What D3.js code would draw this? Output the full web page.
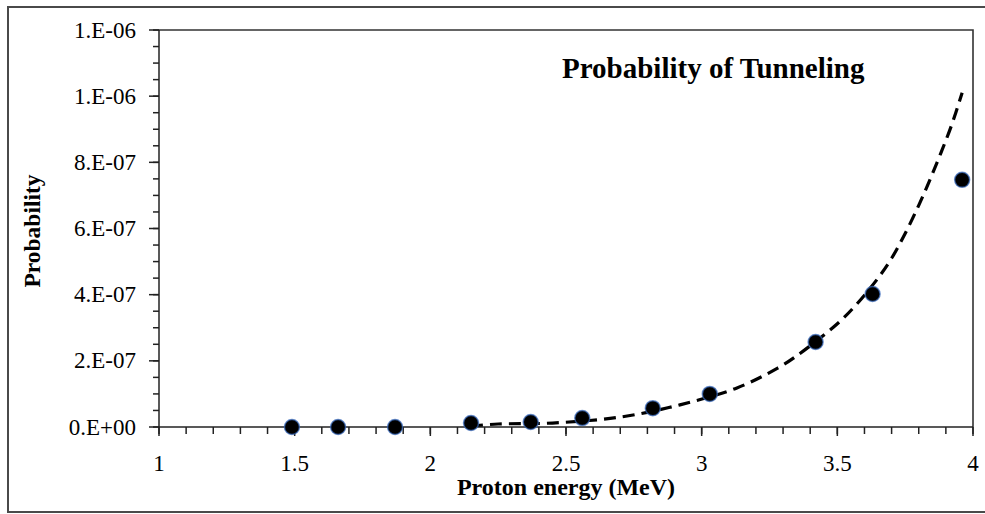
<!DOCTYPE html>
<html>
<head>
<meta charset="utf-8">
<script src="https://cdn.jsdelivr.net/npm/d3@7"></script>
<style>
  body { margin: 0; background: #fff; }
  svg text { font-family: "Liberation Serif", "Times New Roman", serif; fill: #000; }
</style>
</head>
<body>
<svg id="chart" width="985" height="514"></svg>
<script>
// measured points (proton energy in MeV, tunneling probability)
const energy = [1.49, 1.66, 1.87, 2.15, 2.37, 2.56, 2.82, 3.03, 3.42, 3.63, 3.96]
const probability = [0, 0, 0, 1.2e-8, 1.5e-8, 2.7e-8, 5.7e-8, 1.0e-7, 2.57e-7, 4.02e-7, 7.47e-7]

// trendline
const trendX = [2.15, 2.25, 2.45, 2.70, 2.92, 3.13, 3.28, 3.35, 3.50, 3.57, 3.65, 3.70, 3.75, 3.80, 3.84, 3.88, 3.92, 3.96]
const trendY = [0.03e-7, 0.09e-7, 0.12e-7, 0.30e-7, 0.67e-7, 1.18e-7, 1.78e-7, 2.15e-7, 3.12e-7, 3.70e-7, 4.50e-7, 5.10e-7, 5.85e-7, 6.70e-7, 7.45e-7, 8.25e-7, 9.10e-7, 10.10e-7]

const xTicks = [1, 1.5, 2, 2.5, 3, 3.5, 4]
const yTicks = [0, 2e-7, 4e-7, 6e-7, 8e-7, 1.0e-6, 1.2e-6]
const yTickLabels = ["0.E+00", "2.E-07", "4.E-07", "6.E-07", "8.E-07", "1.E-06", "1.E-06"]

const svg = d3.select("#chart")
const margin = { left: 159, right: 973, top: 30, bottom: 427 }

const x = d3.scaleLinear().domain([1, 4]).range([margin.left, margin.right])
const y = d3.scaleLinear().domain([0, 1.2e-6]).range([margin.bottom, margin.top])

// outer frame
svg.append("rect")
    .attr("x", 8).attr("y", 7)
    .attr("width", 990).attr("height", 505)
    .attr("fill", "none")
    .attr("stroke", "#4a4a4a")
    .attr("stroke-width", 2)

// plot area border (top + right)
svg.append("path")
    .attr("d", `M${margin.left},${margin.top}H${margin.right}V${margin.bottom}`)
    .attr("fill", "none")
    .attr("stroke", "#333")
    .attr("stroke-width", 1.6)

// minor ticks
const xMinor = d3.range(1, 4.001, 0.1)
const yMinor = d3.range(0, 1.2001e-6, 0.5e-7)

const axisG = svg.append("g").attr("stroke", "#222").attr("stroke-width", 1.5)

axisG.selectAll(".xminor")
    .data(xMinor)
    .join("line")
    .attr("x1", d => x(d)).attr("x2", d => x(d))
    .attr("y1", margin.bottom).attr("y2", margin.bottom + 7)

axisG.selectAll(".xmajor")
    .data(xTicks)
    .join("line")
    .attr("x1", d => x(d)).attr("x2", d => x(d))
    .attr("y1", margin.bottom).attr("y2", margin.bottom + 9)

axisG.selectAll(".yminor")
    .data(yMinor)
    .join("line")
    .attr("x1", margin.left - 6).attr("x2", margin.left)
    .attr("y1", d => y(d)).attr("y2", d => y(d))

axisG.selectAll(".ymajor")
    .data(yTicks)
    .join("line")
    .attr("x1", margin.left - 10).attr("x2", margin.left)
    .attr("y1", d => y(d)).attr("y2", d => y(d))

// axis lines
axisG.append("line")
    .attr("x1", margin.left).attr("x2", margin.right)
    .attr("y1", margin.bottom).attr("y2", margin.bottom)
axisG.append("line")
    .attr("x1", margin.left).attr("x2", margin.left)
    .attr("y1", margin.top).attr("y2", margin.bottom)

// tick labels
svg.selectAll(".xlabel")
    .data(xTicks)
    .join("text")
    .attr("x", d => x(d))
    .attr("y", 471)
    .attr("text-anchor", "middle")
    .style("font-size", "23px")
    .text(d => d)

svg.selectAll(".ylabel")
    .data(yTicks)
    .join("text")
    .attr("x", 136)
    .attr("y", d => y(d))
    .attr("dy", "0.33em")
    .attr("text-anchor", "end")
    .style("font-size", "23px")
    .text((d, i) => yTickLabels[i])

// axis titles
svg.append("text")
    .attr("x", (margin.left + margin.right) / 2)
    .attr("y", 495)
    .attr("text-anchor", "middle")
    .style("font-size", "24px")
    .style("font-weight", "bold")
    .text("Proton energy (MeV)")

svg.append("text")
    .attr("transform", "translate(40,231) rotate(-90)")
    .attr("text-anchor", "middle")
    .style("font-size", "23.5px")
    .style("font-weight", "bold")
    .text("Probability")

svg.append("text")
    .attr("x", 562)
    .attr("y", 78)
    .style("font-size", "29px")
    .style("font-weight", "bold")
    .text("Probability of Tunneling")

// trendline
const trend = trendX.map((d, i) => [d, trendY[i]])
svg.append("path")
    .datum(trend)
    .attr("d", d3.line().x(d => x(d[0])).y(d => y(d[1])).curve(d3.curveCatmullRom))
    .attr("fill", "none")
    .attr("stroke", "#000")
    .attr("stroke-width", 3.2)
    .attr("stroke-dasharray", "12,7")

// data points
svg.selectAll(".dot")
    .data(energy.map((d, i) => ({ e: d, p: probability[i] })))
    .join("circle")
    .attr("cx", d => x(d.e))
    .attr("cy", d => y(d.p))
    .attr("r", 7.5)
    .attr("fill", "#000")
    .attr("stroke", "#3b6cc0")
    .attr("stroke-opacity", 0.7)
    .attr("stroke-width", 1.5)
</script>
</body>
</html>
